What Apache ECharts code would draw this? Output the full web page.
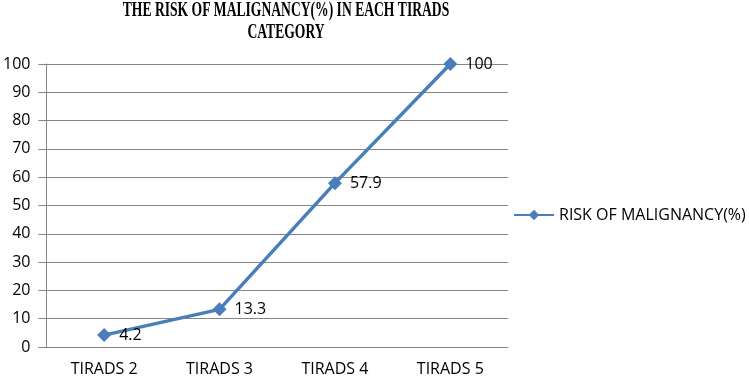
<!DOCTYPE html>
<html>
<head>
<meta charset="utf-8">
<script src="https://cdn.jsdelivr.net/npm/echarts@6/dist/echarts.min.js"></script>
<style>
  html, body { margin: 0; padding: 0; background: #fff; }
  #chart { width: 749px; height: 383px; }
</style>
</head>
<body>
<div id="chart"></div>
<script>
var categories = ['TIRADS 2', 'TIRADS 3', 'TIRADS 4', 'TIRADS 5'];
var riskValues = [4.2, 13.3, 57.9, 100];
var seriesName = 'RISK OF MALIGNANCY(%)';
var titleLines = ['THE RISK OF MALIGNANCY(%) IN EACH TIRADS', 'CATEGORY'];

var myChart = echarts.init(document.getElementById('chart'));
var lineColor = '#4a7ebb';
var textFont = '"Open Sans", "Liberation Sans", Arial, sans-serif';
var titleStyle = {
  fontFamily: '"Liberation Serif", "Times New Roman", serif',
  fontWeight: 'bold',
  fontSize: 20,
  fill: '#000',
  align: 'center',
  verticalAlign: 'top'
};

var option = {
  animation: false,
  // title is drawn as graphic text so it can be squeezed like the original
  graphic: titleLines.map(function (line, i) {
    return {
      type: 'text',
      x: 286,
      y: 1 + i * 22,
      scaleX: 0.68,
      style: Object.assign({ text: line }, titleStyle)
    };
  }),
  legend: {
    data: [seriesName],
    left: 508,
    top: 202,
    itemWidth: 40,
    itemHeight: 13,
    textStyle: { fontFamily: textFont, fontSize: 16, color: '#000' }
  },
  grid: {
    left: 45,
    right: 241,
    top: 64,
    bottom: 36,
    containLabel: false
  },
  xAxis: {
    type: 'category',
    data: categories,
    boundaryGap: true,
    axisLine: { lineStyle: { color: '#868686', width: 1 } },
    axisTick: { show: false },
    axisLabel: { color: '#000', fontFamily: textFont, fontSize: 16, margin: 14 }
  },
  yAxis: {
    type: 'value',
    min: 0,
    max: 100,
    interval: 10,
    axisLine: { show: true, lineStyle: { color: '#868686', width: 1 } },
    axisTick: { show: true, length: 8, lineStyle: { color: '#868686' } },
    axisLabel: { color: '#000', fontFamily: textFont, fontSize: 16, margin: 16 },
    splitLine: { lineStyle: { color: '#868686', width: 1 } }
  },
  series: [
    {
      name: seriesName,
      type: 'line',
      data: riskValues,
      symbol: 'diamond',
      symbolSize: 14,
      itemStyle: { color: lineColor },
      lineStyle: { color: lineColor, width: 3.5 },
      label: {
        show: true,
        position: 'right',
        distance: 8,
        color: '#000',
        fontFamily: textFont,
        fontSize: 16
      }
    }
  ]
};

myChart.setOption(option);
</script>
</body>
</html>
